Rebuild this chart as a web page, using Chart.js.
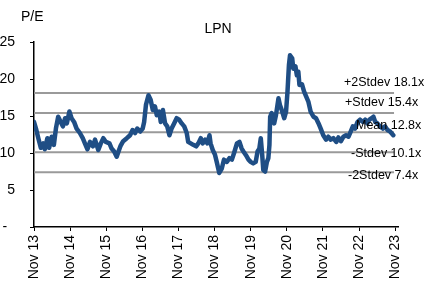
<!DOCTYPE html>
<html>
<head>
<meta charset="utf-8">
<script src="https://cdn.jsdelivr.net/npm/chart.js@4"></script>
<style>
  body { margin: 0; background: #fff; }
  #wrap { width: 438px; height: 283px; position: relative; }
</style>
</head>
<body>
<div id="wrap"><canvas id="myCanvas"></canvas></div>
<script>
// x position in years since Nov 13
var yearPos = [0, 0.055, 0.12, 0.19, 0.26, 0.30, 0.37, 0.42, 0.49, 0.55, 0.61, 0.67, 0.74, 0.80, 0.86, 0.91, 0.98,
  1.04, 1.11, 1.18, 1.27, 1.35, 1.41, 1.48, 1.55, 1.63, 1.69, 1.78, 1.85, 1.92, 1.99,
  2.09, 2.15, 2.22, 2.29, 2.34, 2.40, 2.47, 2.57, 2.66, 2.73, 2.80, 2.86, 2.94,
  3.01, 3.05, 3.10, 3.17, 3.23, 3.29, 3.35, 3.40, 3.47, 3.51, 3.57, 3.63, 3.69, 3.75, 3.81, 3.88, 3.95,
  4.02, 4.09, 4.16, 4.23, 4.27, 4.34, 4.41, 4.49, 4.55, 4.62, 4.67, 4.74, 4.80, 4.86, 4.89, 4.95,
  5.01, 5.06, 5.13, 5.20, 5.26, 5.34, 5.41, 5.48, 5.54, 5.62, 5.69, 5.75, 5.80, 5.87, 5.94,
  6.00, 6.07, 6.14, 6.19, 6.24, 6.28, 6.32, 6.35, 6.40, 6.45, 6.49, 6.52, 6.54, 6.58, 6.65, 6.70, 6.77, 6.81, 6.86, 6.93, 6.98,
  7.02, 7.06, 7.09, 7.15, 7.18, 7.24, 7.28, 7.32, 7.35, 7.42, 7.48, 7.60, 7.66, 7.74, 7.81, 7.88, 7.94,
  8.01, 8.09, 8.15, 8.22, 8.29, 8.37, 8.43, 8.50, 8.57, 8.64, 8.71, 8.77, 8.83, 8.89, 8.96,
  9.03, 9.11, 9.17, 9.23, 9.29, 9.35, 9.40, 9.45, 9.51, 9.58, 9.66, 9.72, 9.79, 9.86, 9.95];

var peValues = [14.2, 13.3, 12.0, 10.7, 11.3, 10.5, 12.0, 10.7, 12.2, 11.1, 13.4, 14.9, 14.2, 13.6, 14.7, 14.0, 15.6,
  14.7, 14.2, 13.3, 12.7, 12.0, 11.3, 10.5, 11.5, 10.9, 11.8, 10.4, 11.3, 12.0, 11.5,
  11.3, 10.6, 10.2, 9.5, 10.2, 11.0, 11.6, 12.0, 12.4, 13.1, 12.7, 13.3, 12.9,
  13.3, 14.2, 16.5, 17.8, 17.2, 15.8, 16.3, 15.1, 15.6, 14.2, 15.8, 14.0, 13.6, 12.4, 13.3, 14.0, 14.7,
  14.5, 14.0, 13.6, 12.7, 11.5, 11.3, 11.1, 10.9, 11.3, 12.0, 11.3, 11.8, 11.3, 12.4, 11.3, 10.4,
  9.8, 8.8, 7.3, 7.9, 9.1, 8.8, 9.3, 9.1, 10.0, 11.3, 11.5, 10.6, 10.2, 9.7, 9.1,
  8.8, 8.6, 8.8, 10.2, 10.6, 12.0, 9.7, 7.7, 7.5, 8.8, 9.3, 11.1, 14.9, 15.4, 14.0, 15.1, 17.4, 16.5, 15.8, 14.7, 15.6,
  18.3, 21.9, 23.2, 22.8, 21.4, 21.7, 20.5, 21.0, 19.2, 19.3, 18.3, 16.9, 15.6, 14.9, 14.7, 14.0, 13.3,
  12.4, 11.8, 12.2, 11.8, 12.0, 11.5, 12.1, 11.6, 12.2, 12.4, 12.2, 12.9, 13.6, 13.3, 14.2,
  14.5, 14.2, 14.5, 14.0, 14.5, 14.7, 14.9, 14.2, 14.0, 13.6, 13.3, 13.6, 13.1, 12.9, 12.4];

var tickLabels = ['Nov 13', 'Nov 14', 'Nov 15', 'Nov 16', 'Nov 17', 'Nov 18', 'Nov 19', 'Nov 20', 'Nov 21', 'Nov 22', 'Nov 23'];
var stdevNames = ['+2Stdev', '+Stdev', 'Mean', '-Stdev', '-2Stdev'];
var stdevValues = [18.1, 15.4, 12.8, 10.1, 7.4];
var lineStart = 0;
var lineEnd = 9.97;

var FONT = "'Liberation Sans', Arial, sans-serif";
Chart.defaults.font.family = FONT;
Chart.defaults.color = '#000';

var points = [];
for (var i = 0; i < yearPos.length; i++) {
  points.push({ x: yearPos[i], y: peValues[i] });
}

var datasets = [];
for (var s = 0; s < stdevValues.length; s++) {
  datasets.push({
    data: [{ x: lineStart, y: stdevValues[s] }, { x: lineEnd, y: stdevValues[s] }],
    borderColor: '#9a9a9a',
    borderWidth: 2,
    pointRadius: 0,
    order: 2
  });
}
datasets.push({
  data: points,
  borderColor: '#1f4e85',
  borderWidth: 4.5,
  pointRadius: 0,
  tension: 0,
  borderJoinStyle: 'round',
  borderCapStyle: 'round',
  order: 1
});

// label placement for the stdev lines (left x in px, y shift in px)
var labelX = [344, 345, 356, 351, 348];
var labelDy = [-11, -10, -7, 1, 3];

var textPlugin = {
  id: 'texts',
  afterDraw: function (chart) {
    var ctx = chart.ctx;
    var yScale = chart.scales.y;
    ctx.save();
    ctx.fillStyle = '#000';
    ctx.textBaseline = 'middle';
    ctx.font = '14px ' + FONT;
    ctx.textAlign = 'left';
    ctx.fillText('P/E', 21, 17);
    ctx.textAlign = 'center';
    ctx.fillText('LPN', 218, 29);
    ctx.font = '12.5px ' + FONT;
    ctx.textAlign = 'left';
    for (var k = 0; k < stdevNames.length; k++) {
      var y = yScale.getPixelForValue(stdevValues[k]) + labelDy[k];
      ctx.fillText(stdevNames[k] + ' ' + stdevValues[k].toFixed(1) + 'x', labelX[k], y);
    }
    ctx.restore();
  }
};

new Chart(document.getElementById('myCanvas'), {
  type: 'line',
  data: { datasets: datasets },
  options: {
    responsive: true,
    maintainAspectRatio: false,
    animation: false,
    layout: { padding: { left: 0, top: 42, right: 40, bottom: 0 } },
    plugins: { legend: { display: false }, tooltip: { enabled: false } },
    scales: {
      x: {
        type: 'linear',
        min: 0,
        max: 10.08,
        afterBuildTicks: function (scale) {
          scale.ticks = tickLabels.map(function (l, i) { return { value: i }; });
        },
        afterFit: function (scale) { scale.height = 56; },
        grid: { drawOnChartArea: false, drawTicks: true, tickLength: 4, color: '#000', lineWidth: 1 },
        border: { display: true, color: '#000', width: 1.5 },
        ticks: {
          autoSkip: false,
          minRotation: 90,
          maxRotation: 90,
          padding: 4,
          font: { size: 14 },
          callback: function (v) { return tickLabels[Math.round(v)]; }
        }
      },
      y: {
        min: 0,
        max: 25,
        afterFit: function (scale) { scale.width = 34; },
        grid: { drawOnChartArea: false, drawTicks: true, tickLength: 4, color: '#000', lineWidth: 1 },
        border: { display: true, color: '#000', width: 1.5 },
        ticks: {
          stepSize: 5,
          padding: 15,
          font: { size: 14 },
          callback: function (v) { return v === 0 ? '-  ' : String(v); }
        }
      }
    }
  },
  plugins: [textPlugin]
});
</script>
</body>
</html>
